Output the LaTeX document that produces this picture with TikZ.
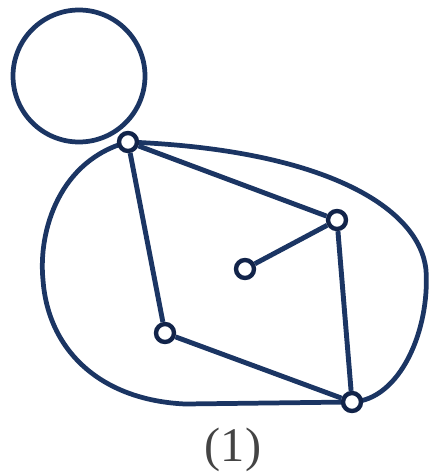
\documentclass[tikz,border=0pt]{standalone}
\usepackage{fontspec}
\setmainfont{Liberation Serif}
\usepackage{tikz}
\usetikzlibrary{calc}
\usepackage{xcolor}
\definecolor{navy}{HTML}{1B3563}
\definecolor{darknavy}{HTML}{12244A}
\definecolor{labelgrey}{HTML}{444444}
\tikzset{
  edge/.style={line width=2.8pt, navy},
  outline/.style={line width=2.7pt, navy, line join=round},
  vertex/.style={circle, draw=darknavy, line width=2.5pt, fill=white,
    minimum size=0.36cm, inner sep=0pt},
  caption/.style={font=\fontsize{27.5}{32}\selectfont, color=labelgrey, anchor=base},
}
\begin{document}
\begin{tikzpicture}[x=0.02cm, y=-0.02cm]
\useasboundingbox (0,0) rectangle (431,473);
% head
\draw[outline] (79,76) circle (66);
% body
\draw[outline] (128,142) .. controls (60,160) and (38,230) .. (43,280)
  .. controls (48,350) and (100,400) .. (185,404) -- (352,402)
  .. controls (400,400) and (430,330) .. (426,270)
  .. controls (420,210) and (330,150) .. (128,142);
% vertices
\node[vertex] (a) at (128,142) {};
\node[vertex] (b) at (337,220) {};
\node[vertex] (c) at (245,269) {};
\node[vertex] (d) at (165,333) {};
\node[vertex] (e) at (352,402) {};
% edges
\draw[edge] (a) -- (b);
\draw[edge] (b) -- (e);
\draw[edge] (e) -- (d);
\draw[edge] (d) -- (a);
\draw[edge] (b) -- (c);
\node[caption] (lbl) at (233,461) {(1)};
\end{tikzpicture}
\end{document}
